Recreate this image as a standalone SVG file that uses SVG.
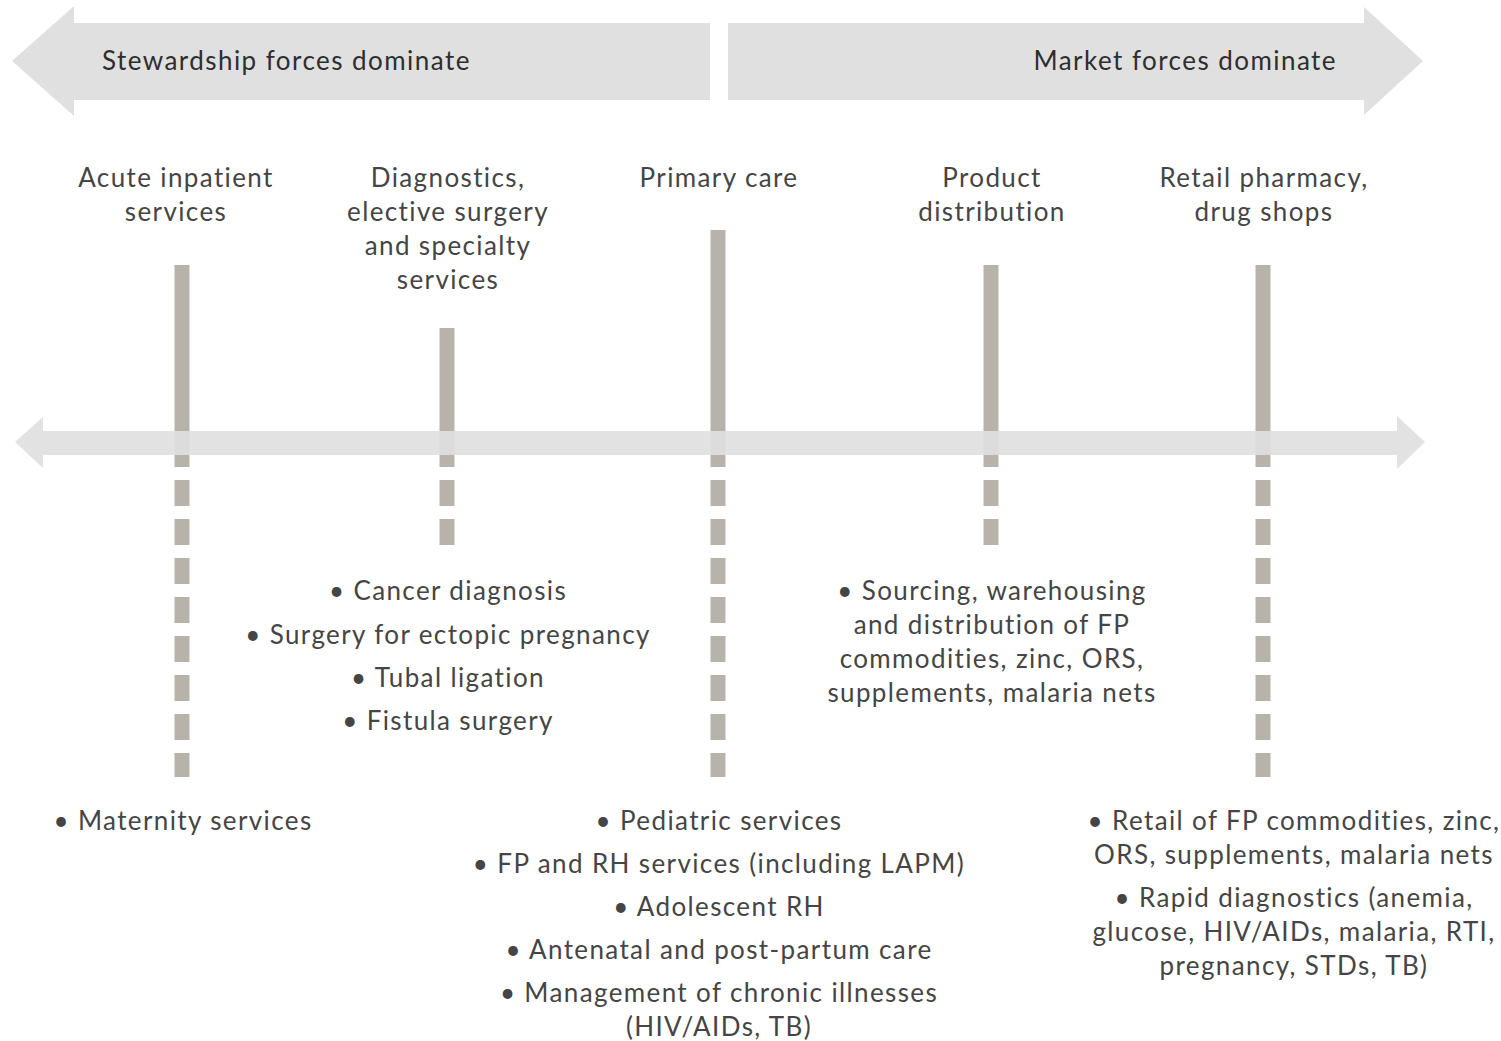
<svg xmlns="http://www.w3.org/2000/svg" width="1501" height="1041" viewBox="0 0 1501 1041">
<style>
.t{font-family:Lato,"Noto Sans","DejaVu Sans",sans-serif;font-size:26px;letter-spacing:1.38px;fill:#454545;text-anchor:middle}
.ban{font-family:Lato,"Noto Sans","DejaVu Sans",sans-serif;font-size:26px;letter-spacing:1.45px;fill:#2e2e2e}
.arrow{fill:#e0e0e0}
.solid{stroke:#b7b3ab;stroke-width:15;fill:none}
.dash{stroke:#b7b3ab;stroke-width:15;fill:none;stroke-dasharray:26 13}
</style>
<rect width="1501" height="1041" fill="#ffffff"/>
<g id="banner-left">
<polygon class="arrow" points="12,61 74,6 74,23 710,23 710,100 74,100 74,116"/>
<text class="ban" x="102" y="70">Stewardship forces dominate</text>
</g>
<g id="banner-right">
<polygon class="arrow" points="728,23 1364,23 1364,7 1423,61 1364,115 1364,100 728,100"/>
<text class="ban" x="1337" y="70" text-anchor="end">Market forces dominate</text>
</g>
<g id="connectors">
<line class="solid" x1="182" y1="265" x2="182" y2="441"/>
<line class="dash" x1="182" y1="441" x2="182" y2="777"/>
<line class="solid" x1="447" y1="328" x2="447" y2="441"/>
<line class="dash" x1="447" y1="441" x2="447" y2="546"/>
<line class="solid" x1="718" y1="230" x2="718" y2="441"/>
<line class="dash" x1="718" y1="441" x2="718" y2="777"/>
<line class="solid" x1="991" y1="265" x2="991" y2="441"/>
<line class="dash" x1="991" y1="441" x2="991" y2="546"/>
<line class="solid" x1="1263" y1="265" x2="1263" y2="441"/>
<line class="dash" x1="1263" y1="441" x2="1263" y2="777"/>
</g>
<g id="axis">
<polygon class="arrow" opacity="0.92" points="15,442 43,417 43,431 1397,431 1397,416 1425,442 1397,469 1397,455 43,455 43,468"/>
</g>
<g id="acute">
<text class="t" x="176" y="187">Acute inpatient</text>
<text class="t" x="176" y="221">services</text>
<text class="t" x="183" y="830">• Maternity services</text>
</g>
<g id="diagnostics">
<text class="t" x="448" y="187">Diagnostics,</text>
<text class="t" x="448" y="221">elective surgery</text>
<text class="t" x="448" y="255">and specialty</text>
<text class="t" x="448" y="289">services</text>
<text class="t" x="448" y="600">• Cancer diagnosis</text>
<text class="t" x="448" y="644">• Surgery for ectopic pregnancy</text>
<text class="t" x="448" y="687">• Tubal ligation</text>
<text class="t" x="448" y="730">• Fistula surgery</text>
</g>
<g id="primary">
<text class="t" x="719" y="187">Primary care</text>
<text class="t" x="719" y="830">• Pediatric services</text>
<text class="t" x="719" y="873">• FP and RH services (including LAPM)</text>
<text class="t" x="719" y="916">• Adolescent RH</text>
<text class="t" x="719" y="959">• Antenatal and post-partum care</text>
<text class="t" x="719" y="1002">• Management of chronic illnesses</text>
<text class="t" x="719" y="1036">(HIV/AIDs, TB)</text>
</g>
<g id="distribution">
<text class="t" x="992" y="187">Product</text>
<text class="t" x="992" y="221">distribution</text>
<text class="t" x="992" y="600">• Sourcing, warehousing</text>
<text class="t" x="992" y="634">and distribution of FP</text>
<text class="t" x="992" y="668">commodities, zinc, ORS,</text>
<text class="t" x="992" y="702">supplements, malaria nets</text>
</g>
<g id="retail">
<text class="t" x="1264" y="187">Retail pharmacy,</text>
<text class="t" x="1264" y="221">drug shops</text>
<text class="t" x="1294" y="830">• Retail of FP commodities, zinc,</text>
<text class="t" x="1294" y="864">ORS, supplements, malaria nets</text>
<text class="t" x="1294" y="907">• Rapid diagnostics (anemia,</text>
<text class="t" x="1294" y="941">glucose, HIV/AIDs, malaria, RTI,</text>
<text class="t" x="1294" y="975">pregnancy, STDs, TB)</text>
</g>
</svg>
